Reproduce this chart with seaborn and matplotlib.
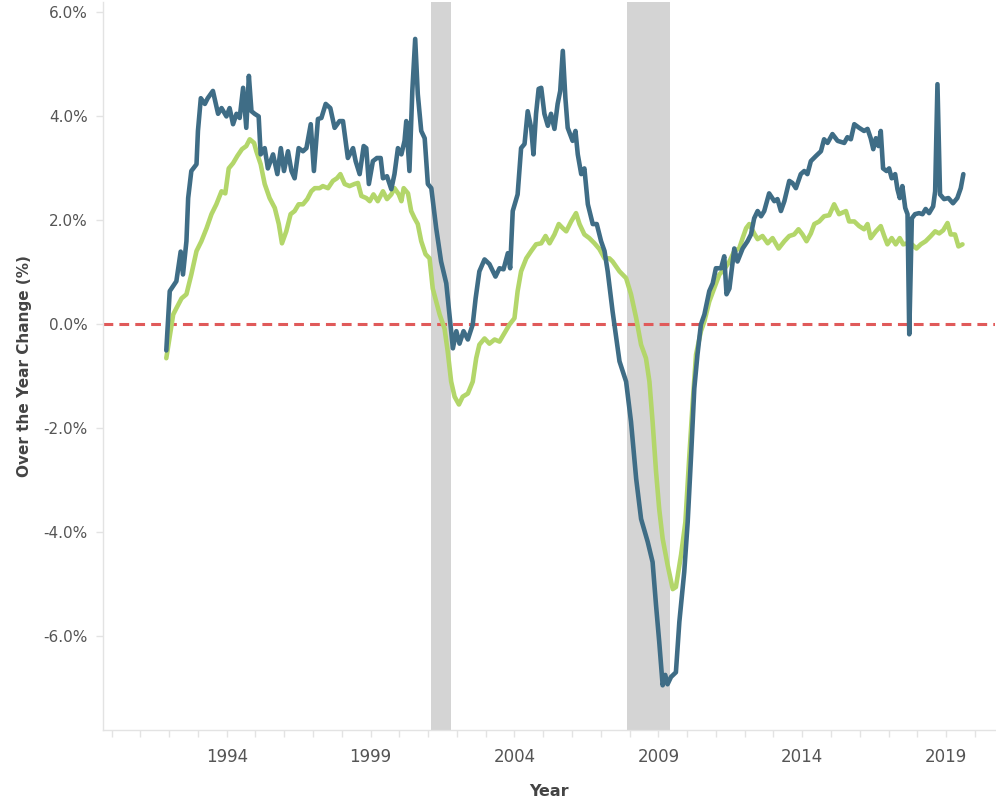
import numpy as np
import pandas as pd
import matplotlib
matplotlib.use("Agg")
import matplotlib.pyplot as plt
import seaborn as sns
from matplotlib.ticker import FixedLocator, FuncFormatter

# ------------------------------------------------
# Data
# ------------------------------------------------
area_year = [
    1991.90, 1992.02, 1992.25, 1992.40, 1992.48, 1992.60, 1992.66, 1992.77, 1992.95, 1993.00,
    1993.10, 1993.24, 1993.34, 1993.52, 1993.70, 1993.82, 1993.99, 1994.10, 1994.22, 1994.34,
    1994.45, 1994.57, 1994.68, 1994.77, 1994.86, 1994.97, 1995.11, 1995.18, 1995.32, 1995.43,
    1995.61, 1995.76, 1995.88, 1995.99, 1996.13, 1996.25, 1996.36, 1996.50, 1996.65, 1996.77,
    1996.92, 1997.03, 1997.17, 1997.29, 1997.44, 1997.60, 1997.75, 1997.92, 1998.04, 1998.21,
    1998.39, 1998.48, 1998.62, 1998.76, 1998.85, 1998.94, 1999.08, 1999.22, 1999.35, 1999.43,
    1999.57, 1999.72, 1999.83, 1999.95, 2000.07, 2000.18, 2000.24, 2000.35, 2000.45, 2000.55,
    2000.64, 2000.76, 2000.88, 2000.99, 2001.11, 2001.28, 2001.45, 2001.63, 2001.86, 2001.98,
    2002.09, 2002.23, 2002.38, 2002.55, 2002.65, 2002.78, 2002.96, 2003.13, 2003.34, 2003.48,
    2003.62, 2003.77, 2003.85, 2003.94, 2004.11, 2004.23, 2004.35, 2004.46, 2004.58, 2004.66,
    2004.75, 2004.84, 2004.93, 2005.04, 2005.16, 2005.27, 2005.39, 2005.50, 2005.59, 2005.68,
    2005.77, 2005.85, 2006.02, 2006.12, 2006.20, 2006.32, 2006.43, 2006.55, 2006.72, 2006.86,
    2007.01, 2007.13, 2007.24, 2007.41, 2007.65, 2007.88, 2008.05, 2008.23, 2008.40, 2008.63,
    2008.80, 2008.92, 2009.03, 2009.15, 2009.24, 2009.32, 2009.44, 2009.61, 2009.73, 2009.90,
    2010.02, 2010.14, 2010.25, 2010.36, 2010.48, 2010.60, 2010.77, 2010.89, 2011.00, 2011.18,
    2011.29, 2011.37, 2011.47, 2011.64, 2011.75, 2011.93, 2012.10, 2012.22, 2012.33, 2012.45,
    2012.57, 2012.68, 2012.85, 2013.03, 2013.14, 2013.26, 2013.38, 2013.55, 2013.66, 2013.78,
    2013.95, 2014.07, 2014.18, 2014.30, 2014.48, 2014.65, 2014.76, 2014.88, 2015.05, 2015.23,
    2015.46, 2015.57, 2015.69, 2015.81, 2015.98, 2016.15, 2016.27, 2016.38, 2016.47, 2016.56,
    2016.65, 2016.73, 2016.81, 2016.93, 2017.02, 2017.11, 2017.23, 2017.31, 2017.39, 2017.48,
    2017.58, 2017.66, 2017.72, 2017.81, 2017.92, 2018.06, 2018.18, 2018.29, 2018.41, 2018.55,
    2018.62, 2018.70, 2018.79, 2018.93, 2019.08, 2019.24, 2019.39, 2019.51, 2019.60,
]
area_change = [
    -0.50, 0.64, 0.83, 1.40, 0.96, 1.60, 2.43, 2.95, 3.08, 3.72,
    4.35, 4.24, 4.35, 4.49, 4.05, 4.16, 4.00, 4.16, 3.85, 4.05,
    3.97, 4.55, 3.78, 4.78, 4.10, 4.05, 4.00, 3.27, 3.39, 3.00,
    3.27, 2.89, 3.39, 2.95, 3.33, 2.95, 2.81, 3.39, 3.33, 3.39,
    3.85, 2.95, 3.95, 3.97, 4.24, 4.16, 3.78, 3.91, 3.91, 3.20,
    3.39, 3.14, 2.89, 3.43, 3.39, 2.70, 3.14, 3.20, 3.20, 2.81,
    2.85, 2.60, 2.89, 3.39, 3.27, 3.53, 3.91, 2.95, 4.49, 5.49,
    4.43, 3.72, 3.58, 2.70, 2.62, 1.85, 1.21, 0.79, -0.46, -0.13,
    -0.37, -0.13, -0.29, 0.00, 0.50, 1.02, 1.25, 1.16, 0.92, 1.08,
    1.06, 1.37, 1.08, 2.18, 2.50, 3.39, 3.47, 4.10, 3.78, 3.27,
    4.05, 4.53, 4.55, 4.05, 3.82, 4.05, 3.76, 4.24, 4.49, 5.26,
    4.35, 3.78, 3.53, 3.72, 3.27, 2.89, 3.00, 2.31, 1.93, 1.93,
    1.60, 1.41, 1.02, 0.25, -0.71, -1.10, -1.87, -2.97, -3.74, -4.18,
    -4.57, -5.40, -6.10, -6.94, -6.74, -6.92, -6.78, -6.69, -5.72, -4.76,
    -3.80, -2.50, -1.23, -0.58, 0.00, 0.19, 0.64, 0.79, 1.08, 1.08,
    1.31, 0.58, 0.69, 1.46, 1.21, 1.46, 1.60, 1.73, 2.04, 2.18,
    2.08, 2.18, 2.52, 2.37, 2.41, 2.18, 2.37, 2.76, 2.72, 2.62,
    2.89, 2.95, 2.89, 3.14, 3.24, 3.33, 3.56, 3.49, 3.66, 3.53,
    3.49, 3.60, 3.56, 3.85, 3.78, 3.72, 3.76, 3.58, 3.37, 3.58,
    3.43, 3.72, 3.00, 2.95, 3.00, 2.81, 2.89, 2.60, 2.43, 2.66,
    2.24, 2.12, -0.19, 2.04, 2.12, 2.14, 2.12, 2.22, 2.14, 2.27,
    2.56, 4.62, 2.50, 2.41, 2.43, 2.33, 2.43, 2.62, 2.89,
]

us_year = [
    1991.90, 1992.14, 1992.25, 1992.43, 1992.60, 1992.77, 1992.95, 1993.12, 1993.30, 1993.47,
    1993.64, 1993.82, 1993.95, 1994.07, 1994.22, 1994.37, 1994.53, 1994.68, 1994.80, 1994.95,
    1995.03, 1995.18, 1995.32, 1995.49, 1995.67, 1995.81, 1995.92, 1996.07, 1996.22, 1996.36,
    1996.50, 1996.65, 1996.80, 1996.94, 1997.06, 1997.23, 1997.34, 1997.52, 1997.69, 1997.83,
    1997.95, 1998.10, 1998.27, 1998.44, 1998.56, 1998.68, 1998.85, 1998.97, 1999.10, 1999.25,
    1999.43, 1999.57, 1999.72, 1999.83, 1999.98, 2000.07, 2000.15, 2000.30, 2000.41, 2000.53,
    2000.64, 2000.76, 2000.91, 2001.05, 2001.16, 2001.40, 2001.57, 2001.68, 2001.80, 2001.92,
    2002.07, 2002.20, 2002.38, 2002.55, 2002.67, 2002.78, 2002.96, 2003.13, 2003.31, 2003.48,
    2003.65, 2003.83, 2004.00, 2004.11, 2004.23, 2004.41, 2004.58, 2004.75, 2004.93, 2005.08,
    2005.22, 2005.39, 2005.54, 2005.68, 2005.80, 2005.97, 2006.14, 2006.26, 2006.43, 2006.60,
    2006.78, 2006.95, 2007.13, 2007.30, 2007.41, 2007.65, 2007.88, 2008.05, 2008.23, 2008.40,
    2008.57, 2008.69, 2008.80, 2008.92, 2009.03, 2009.15, 2009.32, 2009.50, 2009.61, 2009.79,
    2009.94, 2010.08, 2010.19, 2010.31, 2010.48, 2010.60, 2010.77, 2010.94, 2011.12, 2011.29,
    2011.47, 2011.64, 2011.81, 2011.93, 2012.05, 2012.16, 2012.33, 2012.45, 2012.62, 2012.80,
    2012.97, 2013.18, 2013.38, 2013.55, 2013.72, 2013.87, 2014.01, 2014.15, 2014.30, 2014.42,
    2014.59, 2014.76, 2014.94, 2015.11, 2015.28, 2015.52, 2015.63, 2015.81, 2015.98, 2016.15,
    2016.27, 2016.38, 2016.56, 2016.73, 2016.85, 2016.96, 2017.11, 2017.25, 2017.39, 2017.51,
    2017.66, 2017.81, 2017.97, 2018.12, 2018.29, 2018.47, 2018.62, 2018.76, 2018.90, 2019.05,
    2019.16, 2019.31, 2019.43, 2019.57,
]
us_change = [
    -0.65, 0.19, 0.31, 0.50, 0.58, 0.96, 1.41, 1.60, 1.85, 2.12,
    2.31, 2.56, 2.52, 3.00, 3.10, 3.24, 3.37, 3.43, 3.56, 3.49,
    3.33, 3.08, 2.70, 2.43, 2.24, 1.93, 1.56, 1.79, 2.12, 2.18,
    2.31, 2.31, 2.41, 2.56, 2.62, 2.62, 2.66, 2.62, 2.76, 2.81,
    2.89, 2.70, 2.66, 2.70, 2.72, 2.47, 2.43, 2.37, 2.50, 2.37,
    2.56, 2.41, 2.50, 2.62, 2.50, 2.37, 2.62, 2.52, 2.18, 2.04,
    1.93, 1.60, 1.35, 1.27, 0.69, 0.19, -0.08, -0.52, -1.10, -1.39,
    -1.54, -1.39, -1.33, -1.10, -0.65, -0.39, -0.27, -0.37, -0.29, -0.33,
    -0.17, 0.00, 0.12, 0.64, 1.02, 1.27, 1.41, 1.54, 1.56, 1.70,
    1.56, 1.73, 1.93, 1.85, 1.79, 1.98, 2.14, 1.93, 1.73, 1.66,
    1.56, 1.45, 1.27, 1.27, 1.21, 1.02, 0.89, 0.58, 0.12, -0.39,
    -0.65, -1.10, -1.87, -2.83, -3.55, -4.12, -4.62, -5.09, -5.05, -4.43,
    -3.80, -2.50, -1.54, -0.58, -0.13, 0.06, 0.44, 0.69, 0.96, 1.06,
    1.21, 1.41, 1.46, 1.66, 1.85, 1.93, 1.75, 1.64, 1.70, 1.56,
    1.66, 1.46, 1.60, 1.70, 1.73, 1.83, 1.73, 1.60, 1.75, 1.93,
    1.98, 2.08, 2.10, 2.31, 2.12, 2.18, 1.98, 1.98, 1.89, 1.83,
    1.93, 1.66, 1.79, 1.89, 1.70, 1.54, 1.66, 1.54, 1.66, 1.54,
    1.56, 1.54, 1.46, 1.54, 1.60, 1.70, 1.79, 1.75, 1.81, 1.95,
    1.73, 1.73, 1.50, 1.54,
]

# recessions (start, end)
recession_start = [2001.1, 2007.9]
recession_end = [2001.8, 2009.4]

labeled_years = [1994, 1999, 2004, 2009, 2014, 2019]
y_ticks = [-6, -4, -2, 0, 2, 4, 6]

# long form table for seaborn
df = pd.concat([
    pd.DataFrame({"Year": area_year, "Change": area_change, "Series": "Area"}),
    pd.DataFrame({"Year": us_year, "Change": us_change, "Series": "U.S."}),
], ignore_index=True)

# ------------------------------------------------
# Plot
# ------------------------------------------------
sns.set_theme(style="white")
plt.rcParams['font.family'] = ['DejaVu Sans']

fig = plt.figure(figsize=(9.96, 8.01), dpi=100)
ax = fig.add_axes([0.1034, 0.0886, 0.8956, 0.9089])

for s, e in zip(recession_start, recession_end):
    ax.axvspan(s, e, color='#d4d4d4', lw=0, zorder=0)

ax.axhline(0, color='#e05a5a', lw=2.2, ls=(0, (3.2, 2.0)), zorder=1)

sns.lineplot(data=df, x="Year", y="Change", hue="Series",
             palette={"U.S.": "#b3d66a", "Area": "#3f6d86"},
             hue_order=["U.S.", "Area"], estimator=None, sort=False,
             lw=3.3, legend=False, ax=ax, zorder=3)

ax.set_xlim(1989.7, 2020.7)
ax.set_ylim(-7.8, 6.2)

# axes / ticks
for side in ['top', 'right']:
    ax.spines[side].set_visible(False)
for side in ['left', 'bottom']:
    ax.spines[side].set_color('#e3e3e3')
    ax.spines[side].set_linewidth(1.0)

all_years = list(range(1990, 2021))
ax.xaxis.set_major_locator(FixedLocator(all_years))
ax.xaxis.set_major_formatter(FuncFormatter(
    lambda v, p: str(int(round(v))) if int(round(v)) in labeled_years else ''))
ax.yaxis.set_major_locator(FixedLocator(y_ticks))
ax.yaxis.set_major_formatter(FuncFormatter(lambda v, p: f"{v:.1f}%"))

ax.tick_params(axis='x', which='major', direction='out', length=5, width=1,
               color='#e3e3e3', labelsize=12, labelcolor='#555555', pad=8, bottom=True)
ax.tick_params(axis='y', which='major', direction='out', length=5, width=1,
               color='#e3e3e3', labelsize=11, labelcolor='#555555', pad=6, left=True)

ax.set_xlabel("Year", fontsize=11.5, fontweight='bold', color='#444444', labelpad=13)
ax.set_ylabel("Over the Year Change (%)", fontsize=11, fontweight='bold',
              color='#444444', labelpad=8)
ax.grid(False)

plt.savefig("out.png", dpi=100)
